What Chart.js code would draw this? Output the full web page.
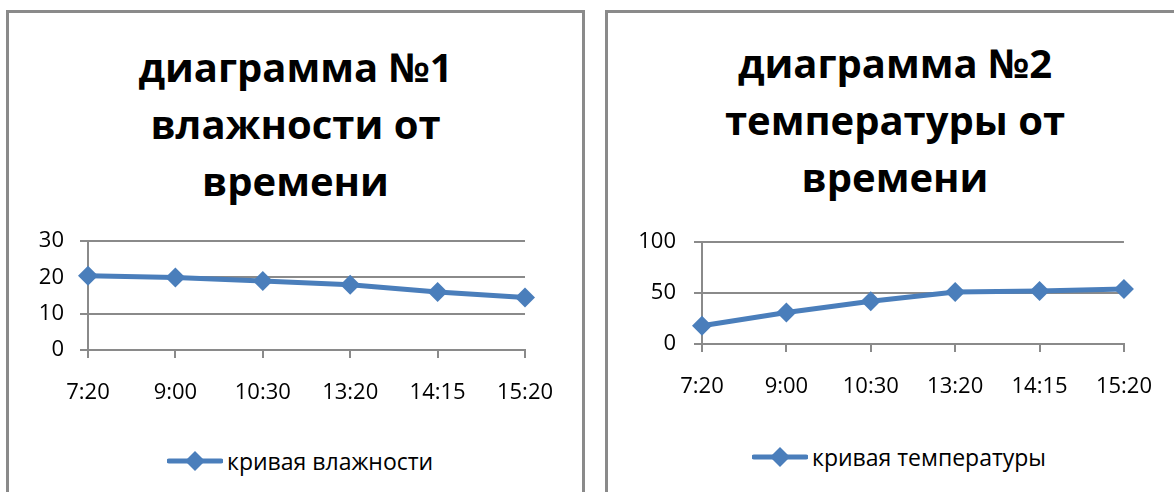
<!DOCTYPE html>
<html lang="ru">
<head>
<meta charset="utf-8">
<script src="https://cdn.jsdelivr.net/npm/chart.js@4.4.1/dist/chart.umd.min.js"></script>
<style>
  html, body { margin: 0; padding: 0; background: #fff; }
  body { width: 1174px; height: 492px; position: relative; overflow: hidden; font-family: "Open Sans", sans-serif; }
  .frame { position: absolute; top: 10px; height: 520px; border: 3px solid #8a8a8a; box-sizing: border-box; }
  .title { position: absolute; text-align: center; font-weight: bold; font-size: 40px; line-height: 57px; color: #000; }
  .legend { position: absolute; display: flex; align-items: center; font-size: 23px; color: #000; white-space: nowrap; }
  .legend svg { margin-right: 4px; }
  .plot { position: absolute; }
</style>
</head>
<body>
<div class="frame" style="left:6px; width:579px;"></div>
<div class="frame" style="left:605px; width:600px;"></div>

<div class="title" id="title1" style="left:6px; width:579px; top:38px;"></div>
<div class="title" id="title2" style="left:605px; width:580px; top:34px;"></div>

<div class="plot" style="left:0; top:212px; width:590px; height:208px;"><canvas id="chart1"></canvas></div>
<div class="plot" style="left:600px; top:211px; width:574px; height:209px;"><canvas id="chart2"></canvas></div>

<div class="legend" id="legend1" style="left:167px; top:445px;"></div>
<div class="legend" id="legend2" style="left:752px; top:441px;"></div>

<script>
// time of measurement
const times = ['7:20', '9:00', '10:30', '13:20', '14:15', '15:20'];

// humidity readings
const humidity = [20.5, 20, 19, 18, 16, 14.5];
const humidityTicks = [0, 10, 20, 30];

// temperature readings
const temperature = [18, 31, 42, 51, 52, 54];
const temperatureTicks = [0, 50, 100];

const titles = [
    ['диаграмма №1', 'влажности от', 'времени'],
    ['диаграмма №2', 'температуры от', 'времени']
];
const seriesNames = ['кривая влажности', 'кривая температуры'];

const lineColor = '#4a7ebb';
const gridColor = '#8a8a8a';
const tickFont = { family: 'Open Sans', size: 22 };

document.getElementById('title1').innerHTML = titles[0].join('<br>');
document.getElementById('title2').innerHTML = titles[1].join('<br>');

function legendHtml(name) {
    return '<svg width="56" height="22" viewBox="0 0 56 22">' +
        '<line x1="2" y1="11" x2="54" y2="11" stroke="' + lineColor + '" stroke-width="5" stroke-linecap="round"/>' +
        '<polygon points="28,1 38,11 28,21 18,11" fill="' + lineColor + '"/>' +
        '</svg><span>' + name + '</span>';
}
document.getElementById('legend1').innerHTML = legendHtml(seriesNames[0]);
document.getElementById('legend2').innerHTML = legendHtml(seriesNames[1]);

function makeChart(id, name, values, ticks, cfg) {
    const ctx = document.getElementById(id).getContext('2d');
    return new Chart(ctx, {
        type: 'line',
        data: {
            labels: times,
            datasets: [{
                label: name,
                data: values,
                borderColor: lineColor,
                backgroundColor: lineColor,
                borderWidth: 5,
                tension: 0,
                pointStyle: 'rectRot',
                pointRadius: 10,
                pointBorderWidth: 0,
                pointBackgroundColor: lineColor,
                clip: false
            }]
        },
        options: {
            responsive: true,
            maintainAspectRatio: false,
            animation: false,
            layout: { padding: { top: cfg.top, right: cfg.right, left: 0, bottom: 0 } },
            plugins: {
                legend: { display: false },
                tooltip: { enabled: false }
            },
            scales: {
                x: {
                    offset: false,
                    grid: { drawOnChartArea: false, color: gridColor, lineWidth: 2, tickLength: 8 },
                    border: { color: gridColor, width: 2 },
                    ticks: { font: tickFont, color: '#000', padding: cfg.xPad, maxRotation: 0, autoSkip: false },
                    afterFit: s => { s.height = cfg.xHeight; }
                },
                y: {
                    min: ticks[0],
                    max: ticks[ticks.length - 1],
                    afterBuildTicks: s => { s.ticks = ticks.map(v => ({ value: v })); },
                    grid: { color: gridColor, lineWidth: 2, tickLength: 8 },
                    border: { color: gridColor, width: 2 },
                    ticks: { font: tickFont, color: '#000', padding: cfg.yPad },
                    afterFit: s => { s.width = cfg.yWidth; }
                }
            }
        }
    });
}

makeChart('chart1', seriesNames[0], humidity, humidityTicks,
    { top: 21, right: 65, yWidth: 88, xHeight: 70, xPad: 22, yPad: 16 });
makeChart('chart2', seriesNames[1], temperature, temperatureTicks,
    { top: 21, right: 49, yWidth: 102, xHeight: 76, xPad: 22, yPad: 18 });
</script>
</body>
</html>
